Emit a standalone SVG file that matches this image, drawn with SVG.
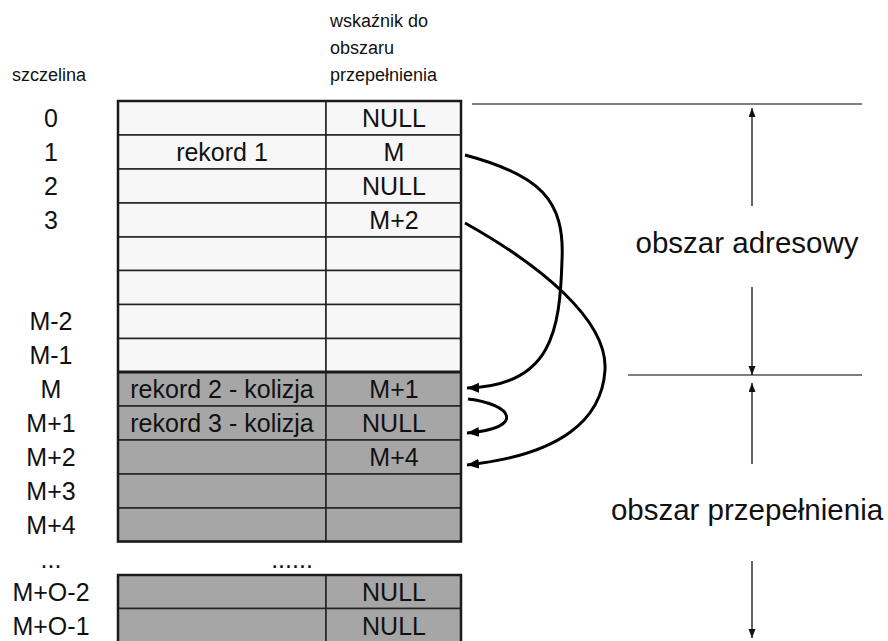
<svg xmlns="http://www.w3.org/2000/svg" width="888" height="641" viewBox="0 0 888 641">
<defs>
<style>
.w{fill:#f7f7f7;stroke:#222;stroke-width:1.5}
.g{fill:#a6a6a6;stroke:#222;stroke-width:1.5}
.t{font-family:"Liberation Sans",Arial,sans-serif;font-size:25px;fill:#111;text-anchor:middle}
.h{font-family:"Liberation Sans",Arial,sans-serif;font-size:18px;fill:#111}
.big{font-family:"Liberation Sans",Arial,sans-serif;font-size:29.5px;fill:#111;text-anchor:middle}
.conn{fill:none;stroke:#000;stroke-width:3}
.dim{stroke:#111;stroke-width:1.3;fill:none}
.hl{stroke:#555;stroke-width:1.5}
.border{fill:none;stroke:#1a1a1a;stroke-width:2.5}
</style>
<marker id="ah" markerUnits="userSpaceOnUse" markerWidth="13" markerHeight="11" refX="12" refY="5" orient="auto">
<path d="M0,0 L12,5 L0,10 z" fill="#000"/>
</marker>
<marker id="dh" markerUnits="userSpaceOnUse" markerWidth="10" markerHeight="8" refX="9" refY="3.5" orient="auto">
<path d="M0,0 L9,3.5 L0,7 z" fill="#111"/>
</marker>
</defs>
<rect width="888" height="641" fill="#ffffff"/>

<g id="headers">
<text class="h" x="12" y="81">szczelina</text>
<text class="h" x="330" y="27">wskaźnik do</text>
<text class="h" x="330" y="54">obszaru</text>
<text class="h" x="330" y="81">przepełnienia</text>
</g>

<g id="row-0"><rect class="w" x="118" y="101" width="208" height="34"/><rect class="w" x="326" y="101" width="135" height="34"/><text class="t" x="394" y="127">NULL</text></g>
<g id="row-1"><rect class="w" x="118" y="135" width="208" height="34"/><rect class="w" x="326" y="135" width="135" height="34"/><text class="t" x="222" y="161">rekord 1</text><text class="t" x="394" y="161">M</text></g>
<g id="row-2"><rect class="w" x="118" y="169" width="208" height="34"/><rect class="w" x="326" y="169" width="135" height="34"/><text class="t" x="394" y="195">NULL</text></g>
<g id="row-3"><rect class="w" x="118" y="203" width="208" height="34"/><rect class="w" x="326" y="203" width="135" height="34"/><text class="t" x="394" y="229">M+2</text></g>
<g id="row-4"><rect class="w" x="118" y="237" width="208" height="33.5"/><rect class="w" x="326" y="237" width="135" height="33.5"/></g>
<g id="row-5"><rect class="w" x="118" y="270.5" width="208" height="34"/><rect class="w" x="326" y="270.5" width="135" height="34"/></g>
<g id="row-6"><rect class="w" x="118" y="304.5" width="208" height="34"/><rect class="w" x="326" y="304.5" width="135" height="34"/></g>
<g id="row-7"><rect class="w" x="118" y="338.5" width="208" height="33.5"/><rect class="w" x="326" y="338.5" width="135" height="33.5"/></g>
<g id="row-M"><rect class="g" x="118" y="372" width="208" height="34"/><rect class="g" x="326" y="372" width="135" height="34"/><text class="t" x="222" y="398">rekord 2 - kolizja</text><text class="t" x="394" y="398">M+1</text></g>
<g id="row-M1"><rect class="g" x="118" y="406" width="208" height="34"/><rect class="g" x="326" y="406" width="135" height="34"/><text class="t" x="222" y="432">rekord 3 - kolizja</text><text class="t" x="394" y="432">NULL</text></g>
<g id="row-M2"><rect class="g" x="118" y="440" width="208" height="34"/><rect class="g" x="326" y="440" width="135" height="34"/><text class="t" x="394" y="466">M+4</text></g>
<g id="row-M3"><rect class="g" x="118" y="474" width="208" height="34"/><rect class="g" x="326" y="474" width="135" height="34"/></g>
<g id="row-M4"><rect class="g" x="118" y="508" width="208" height="33.5"/><rect class="g" x="326" y="508" width="135" height="33.5"/></g>
<g id="row-MO2"><rect class="g" x="118" y="575" width="208" height="33.5"/><rect class="g" x="326" y="575" width="135" height="33.5"/><text class="t" x="394" y="601">NULL</text></g>
<g id="row-MO1"><rect class="g" x="118" y="608.5" width="208" height="34"/><rect class="g" x="326" y="608.5" width="135" height="34"/><text class="t" x="394" y="634.5">NULL</text></g>

<g id="table-borders">
<rect class="border" x="118" y="101" width="343" height="440.5"/>
<line x1="118" y1="372" x2="461" y2="372" stroke="#1a1a1a" stroke-width="3"/>
<rect class="border" x="118" y="575" width="343" height="68"/>
</g>

<g id="ellipsis">
<text class="t" x="292" y="568">......</text>
</g>

<g id="slot-labels">
<text class="t" x="51" y="127">0</text>
<text class="t" x="51" y="161">1</text>
<text class="t" x="51" y="195">2</text>
<text class="t" x="51" y="229">3</text>
<text class="t" x="51" y="330">M-2</text>
<text class="t" x="51" y="364">M-1</text>
<text class="t" x="51" y="398">M</text>
<text class="t" x="51" y="432">M+1</text>
<text class="t" x="51" y="466">M+2</text>
<text class="t" x="51" y="500">M+3</text>
<text class="t" x="51" y="534">M+4</text>
<text class="t" x="51" y="568">...</text>
<text class="t" x="51" y="601">M+O-2</text>
<text class="t" x="51" y="634.5">M+O-1</text>
</g>

<g id="connectors">
<path class="conn" d="M465,155 C540,175 565,200 562,260 C560,330 552,386 467,388" marker-end="url(#ah)"/>
<path class="conn" d="M465,223 C540,265 608,320 605,370 C602,420 560,455 467,465" marker-end="url(#ah)"/>
<path class="conn" d="M468,399 C512,404 527,428 467,433" marker-end="url(#ah)"/>
</g>

<g id="region-markers">
<line class="hl" x1="472" y1="104" x2="862" y2="104"/>
<line class="hl" x1="628" y1="375" x2="862" y2="375"/>
<line class="dim" x1="752" y1="206" x2="752" y2="108" marker-end="url(#dh)"/>
<line class="dim" x1="752" y1="287" x2="752" y2="375" marker-end="url(#dh)"/>
<line class="dim" x1="752" y1="464" x2="752" y2="383" marker-end="url(#dh)"/>
<line class="dim" x1="752" y1="561" x2="752" y2="638" marker-end="url(#dh)"/>
<text class="big" x="747" y="253">obszar adresowy</text>
<text class="big" x="747" y="520">obszar przepełnienia</text>
</g>
</svg>
